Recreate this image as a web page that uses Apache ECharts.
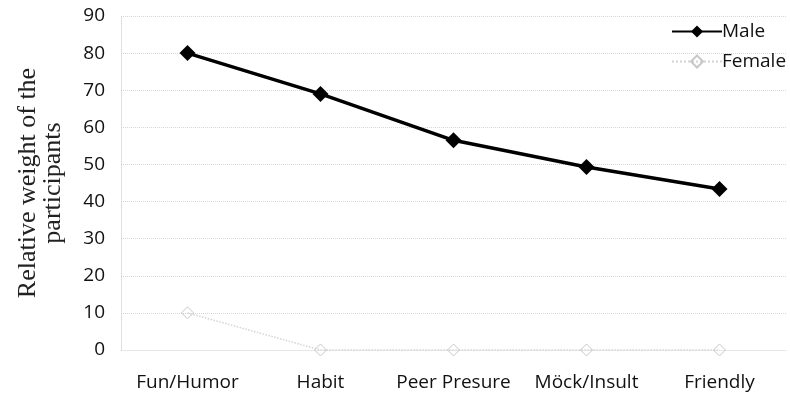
<!DOCTYPE html>
<html>
<head>
<meta charset="utf-8">
<script src="https://cdn.jsdelivr.net/npm/echarts@6/dist/echarts.min.js"></script>
<style>html,body{margin:0;padding:0;background:#fff}#c{width:790px;height:400px}</style>
</head>
<body>
<div id="c"></div>
<script>
var categories = ['Fun/Humor', 'Habit', 'Peer Presure', 'Möck/Insult', 'Friendly'];
var maleValues = [80, 69, 56.5, 49.3, 43.4];
var femaleValues = [10, 0, 0, 0, 0];
var yTicks = { min: 0, max: 90, interval: 10 };
var yAxisTitle = 'Relative weight of the\nparticipants';

var chart = echarts.init(document.getElementById('c'));
var tickFont = '"Open Sans", sans-serif';
chart.setOption({
  animation: false,
  backgroundColor: '#fff',
  grid: { left: 121, right: 4, top: 16, bottom: 50 },
  legend: {
    data: ['Male', 'Female'], left: 666, top: 17, orient: 'vertical',
    itemWidth: 50, itemHeight: 15, itemGap: 11,
    textStyle: { fontFamily: tickFont, fontSize: 19, color: '#111', padding: [0, 0, 0, -5] }
  },
  xAxis: {
    type: 'category', data: categories, boundaryGap: true,
    axisLine: { show: true, lineStyle: { color: '#e2e2e2', type: 'dotted' } },
    axisTick: { show: false },
    axisLabel: { fontFamily: tickFont, fontSize: 19, color: '#111', margin: 23, interval: 0, hideOverlap: false }
  },
  yAxis: {
    type: 'value', min: yTicks.min, max: yTicks.max, interval: yTicks.interval,
    name: yAxisTitle, nameLocation: 'middle', nameGap: 55, nameRotate: 90,
    nameTextStyle: { fontFamily: '"Liberation Serif", serif', fontSize: 26, color: '#222', lineHeight: 25 },
    axisLine: { show: true, lineStyle: { color: '#d8d8d8', type: 'dotted' } },
    axisTick: { show: false },
    axisLabel: { fontFamily: tickFont, fontSize: 19, color: '#111', margin: 16 },
    splitLine: { show: true, lineStyle: { color: '#d6d6d6', type: 'dotted', width: 1 } }
  },
  series: [
    { name: 'Male', type: 'line', data: maleValues, symbol: 'diamond', symbolSize: 16,
      lineStyle: { color: '#000', width: 3.5 }, itemStyle: { color: '#000' } },
    { name: 'Female', type: 'line', data: femaleValues, symbol: 'diamond', symbolSize: 12,
      lineStyle: { color: '#d4d4d4', width: 1.5, type: 'dotted' },
      itemStyle: { color: 'rgba(255,255,255,0)', borderColor: '#c8c8c8', borderWidth: 1 } }
  ]
});
</script>
</body>
</html>
